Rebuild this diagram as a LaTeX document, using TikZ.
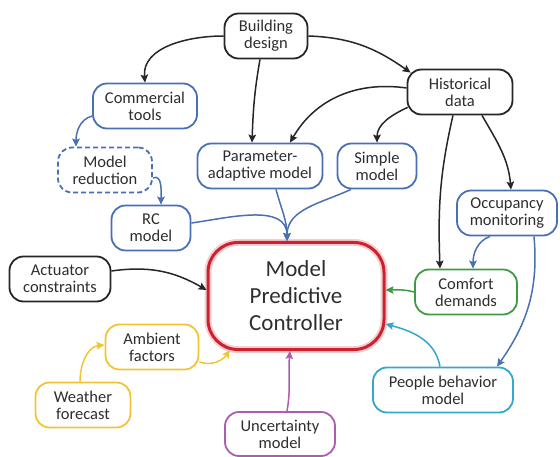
\documentclass[tikz,border=0pt]{standalone}
\usepackage{fontspec}
\setmainfont{Carlito}
\usepackage{tikz}
\usetikzlibrary{arrows.meta}

\definecolor{cblk}{HTML}{262626}
\definecolor{cblu}{HTML}{4A6FB5}
\definecolor{cred}{HTML}{D0202E}
\definecolor{cgrn}{HTML}{3F9A44}
\definecolor{cyel}{HTML}{F0C434}
\definecolor{ccya}{HTML}{33A7CC}
\definecolor{cpur}{HTML}{AE5CB2}
\definecolor{ctxt}{HTML}{2E2E2E}

\begin{document}
\begin{tikzpicture}[
    x=1pt, y=1pt,            % one unit is one pixel of the sketch
    ]
% -------------------------------------------------
\tikzset{
  base/.style={draw, line width=1.8pt, rounded corners=14pt, align=center,
    inner sep=2pt, minimum height=45pt, text=ctxt,
    font=\fontsize{16.5}{17}\selectfont},
  blk/.style={base, draw=cblk},
  blu/.style={base, draw=cblu},
  grn/.style={base, draw=cgrn},
  yel/.style={base, draw=cyel},
  cya/.style={base, draw=ccya},
  pur/.style={base, draw=cpur},
  mpc/.style={draw=cred, line width=3pt, rounded corners=30pt, align=center,
    minimum width=176pt, minimum height=107pt, text=ctxt,
    font=\fontsize{23}{27}\selectfont,
    preaction={draw=cred!22, line width=7pt}},
  line/.style={draw, line width=1.5pt,
    -{Stealth[length=8pt, width=7.5pt, inset=1.5pt]}}
}
% -------------------------------------------------
\useasboundingbox (0,0) rectangle (560,456);

% Placing the nodes
\node [mpc] (ctrl) at (296,160) {Model\\Predictive\\Controller};

\node [blk, minimum width=83pt]  (build) at (266,420) {Building\\design};
\node [blk, minimum width=105pt] (hist)  at (460,364) {Historical\\data};
\node [blk, minimum width=101pt] (act)   at (60,177)  {Actuator\\constraints};

\node [blu, minimum width=104pt] (comm)   at (145,350) {Commercial\\tools};
\node [blu, minimum width=94pt, dash pattern=on 5pt off 3pt]
                                 (reduc)  at (105,286) {Model\\reduction};
\node [blu, minimum width=125pt] (param)  at (260,290) {Parameter-\\adaptive model};
\node [blu, minimum width=79pt]  (simple) at (377,290) {Simple\\model};
\node [blu, minimum width=79pt]  (rc)     at (151,228) {RC\\model};
\node [blu, minimum width=100pt] (occ)    at (507,243) {Occupancy\\monitoring};

\node [grn, minimum width=102pt] (comf)    at (466,164) {Comfort\\demands};
\node [yel, minimum width=93pt]  (amb)     at (152,109) {Ambient\\factors};
\node [yel, minimum width=95pt]  (weather) at (83,51)   {Weather\\forecast};
\node [cya, minimum width=140pt] (people)  at (443,66)  {People behavior\\model};
\node [pur, minimum width=110pt, minimum height=44pt]
                                 (unc)     at (280,22)  {Uncertainty\\model};

% -------------------------------------------------
% Connectors
\path [line, draw=cblk] (build.west) to[out=180, in=95] (comm.north);
\path [line, draw=cblk] ([xshift=-6]build.south) to[out=-100, in=88] ([xshift=-8]param.north);
\path [line, draw=cblk] (build.east) to[out=-2, in=145] ([shift={(4,-4)}]hist.north west);
\path [line, draw=cblk] ([yshift=4]hist.west) to[out=172, in=60] ([xshift=30]param.north);
\path [line, draw=cblk] ([shift={(1,8)}]hist.south west) to[out=205, in=90] (simple.north);
\path [line, draw=cblk] ([xshift=-7]hist.south) to[out=-103, in=92] ([xshift=-26]comf.north);
\path [line, draw=cblk] ([xshift=22]hist.south) to[out=-60, in=95] ([xshift=4]occ.north);

\path [line, draw=cblu] ([yshift=-10]comm.west) to[out=195, in=90] ([xshift=-29]reduc.north);
\path [line, draw=cblu] ([yshift=-8]reduc.east) to[out=25, in=90] ([xshift=10]rc.north);
\path [line, draw=cblu] ([yshift=5]rc.east) to[out=8, in=90] ([xshift=-9]ctrl.north);
\path [line, draw=cblu] ([xshift=16]param.south) to[out=-75, in=90] ([xshift=-9]ctrl.north);
\path [line, draw=cblu] ([xshift=-26]simple.south) to[out=205, in=90] ([xshift=-9]ctrl.north);
\path [line, draw=cblu] ([xshift=-17]occ.south) to[out=200, in=90] ([xshift=7]comf.north);
\path [line, draw=cblu] ([xshift=27]occ.south) to[out=-85, in=55] ([xshift=54]people.north);

\path [line, draw=cgrn] (comf.west) to[out=165, in=0] ([yshift=6]ctrl.east);
\path [line, draw=ccya] ([xshift=-3]people.north) to[out=100, in=-15] ([yshift=-28]ctrl.east);
\path [line, draw=cblk] ([yshift=8]act.east) to[out=8, in=150] ([yshift=6]ctrl.west);
\path [line, draw=cyel] ([xshift=-3]weather.north) to[out=90, in=185] ([yshift=2]amb.west);
\path [line, draw=cyel] ([yshift=-15]amb.east) to[out=-20, in=-125] ([shift={(-66,1)}]ctrl.south);
\path [line, draw=cpur] ([xshift=7]unc.north) to[out=80, in=-95] ([xshift=-6]ctrl.south);

\end{tikzpicture}
\end{document}
